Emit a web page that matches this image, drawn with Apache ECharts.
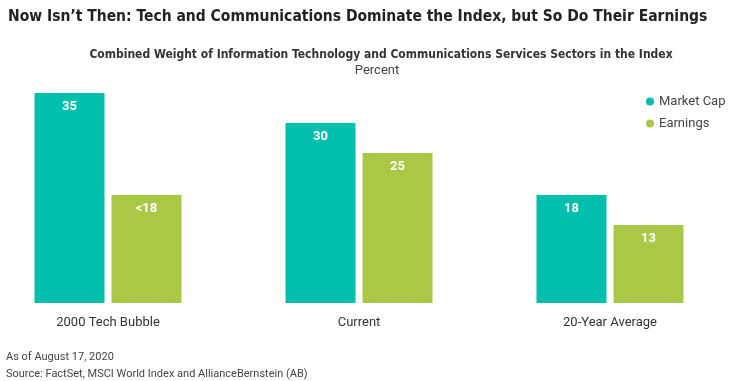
<!DOCTYPE html>
<html><head><meta charset="utf-8">
<script src="https://cdn.jsdelivr.net/npm/echarts@6/dist/echarts.min.js"></script>
<style>html,body{margin:0;padding:0;background:#fff}#c{width:736px;height:381px}</style>
</head><body><div id="c"></div>
<script>
const categories = ['2000 Tech Bubble', 'Current', '20-Year Average'];
const marketCap = [35, 30, 18];
const earnings = [18, 25, 13];
const marketCapLabels = ['35', '30', '18'];
const earningsLabels = ['<18', '25', '13'];
const seriesNames = ['Market Cap', 'Earnings'];

const chart = echarts.init(document.getElementById('c'));
const lbl = (arr) => ({
  show: true, position: 'insideTop', distance: 7, color: '#fff',
  fontWeight: 'bold', fontSize: 13, fontFamily: 'Roboto',
  formatter: p => arr[p.dataIndex]
});
const cond = 'DejaVu Sans Condensed, sans-serif';
chart.setOption({
  animation: false,
  title: [
    {text: "Now Isn\u2019t Then: Tech and Communications Dominate the Index, but So Do Their Earnings",
     left: 3, top: 4, textStyle: {fontSize: 15.5, fontWeight: 'bold', color: '#222', fontFamily: cond}},
    {text: 'Combined Weight of Information Technology and Communications Services Sectors in the Index',
     left: 376, textAlign: 'center', top: 44, textStyle: {fontSize: 12, fontWeight: 'bold', color: '#333', fontFamily: cond}},
    {text: 'Percent', left: 372, textAlign: 'center', top: 59, textStyle: {fontSize: 13, fontWeight: 'normal', color: '#444', fontFamily: 'Roboto'}},
    {text: 'As of August 17, 2020', left: 1, top: 347, textStyle: {fontSize: 11, fontWeight: 'normal', color: '#444', fontFamily: 'Roboto'}},
    {text: 'Source: FactSet, MSCI World Index and AllianceBernstein (AB)', left: 1, top: 364, textStyle: {fontSize: 11, fontWeight: 'normal', color: '#444', fontFamily: 'Roboto'}}
  ],
  legend: {
    data: seriesNames, orient: 'vertical', left: 641, top: 90, itemGap: 9,
    icon: 'circle', itemWidth: 8, itemHeight: 8,
    textStyle: {fontSize: 13, color: '#444', fontFamily: 'Roboto'}
  },
  grid: {left: -17.5, width: 753, top: 93, bottom: 78, containLabel: false, outerBoundsMode: 'none'},
  xAxis: {
    type: 'category', data: categories,
    axisLine: {show: false}, axisTick: {show: false},
    axisLabel: {fontSize: 13, color: '#333', margin: 13, fontFamily: 'Roboto'}
  },
  yAxis: {type: 'value', min: 0, max: 35, show: false, splitLine: {show: false}},
  series: [
    {name: seriesNames[0], type: 'bar', data: marketCap, barWidth: 70, barGap: '10%',
     itemStyle: {color: '#00BFAD'}, label: lbl(marketCapLabels)},
    {name: seriesNames[1], type: 'bar', data: earnings, barWidth: 70,
     itemStyle: {color: '#A9C845'}, label: lbl(earningsLabels)}
  ]
});
</script></body></html>
